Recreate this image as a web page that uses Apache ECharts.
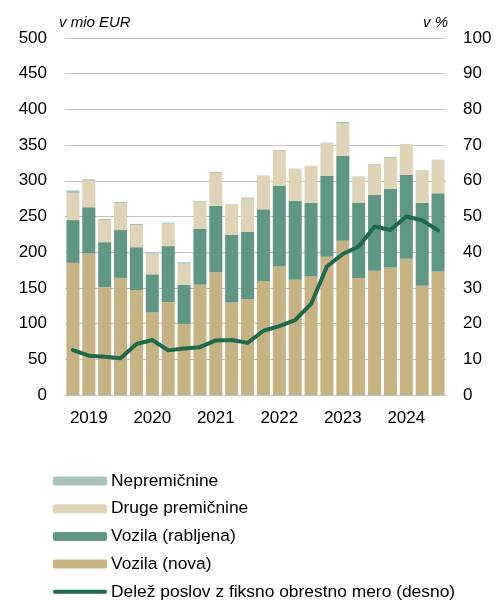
<!DOCTYPE html>
<html>
<head>
<meta charset="utf-8">
<script src="https://cdn.jsdelivr.net/npm/echarts@6/dist/echarts.min.js"></script>
<style>
html,body{margin:0;padding:0;background:#fff;}
#chart{width:496px;height:600px;}
</style>
</head>
<body>
<div id="chart"></div>
<script>
const years = ['2019','2020','2021','2022','2023','2024'];
const quarters = ['Q1','Q2','Q3','Q4'];
const categories = [];
years.forEach(y => quarters.forEach(q => categories.push(y + ' ' + q)));

const vozilaNova = [185,198,151,164,147,115.5,130,99.5,154.5,172,129.5,134,159.5,180,161.5,166,193.5,216,164,174,178.5,191,153,173];
const vozilaRabljena = [60,65,63,67,60,53.5,78.5,54.5,78.5,93,94.5,94.5,100.5,113,110.5,103,113.5,119,105.5,106,110.5,117.5,116,109.5];
const drugePremicnine = [38,37,31,38,31,29,31.5,30,38,46,42,46.5,47,49,44.5,51.5,45.5,45,35.5,42.5,43,42.5,44.5,46];
const nepremicnine = [3.5,2,1.5,1.5,1.5,1,1.5,2,1,1.5,1,1.5,0.5,1,0.5,0.5,1,2.5,1,1,1.5,0.5,1,1];
const delezFiksno = [12.6,11.0,10.7,10.3,14.3,15.4,12.5,13.0,13.4,15.3,15.4,14.6,18.0,19.3,21.0,25.5,36.0,39.5,41.6,47.2,46.2,50.0,48.9,46.1];

const leftTicks = [0,500,50];
const rightTicks = [0,100,10];

const names = ['Nepremičnine','Druge premičnine','Vozila (rabljena)','Vozila (nova)','Delež poslov z fiksno obrestno mero (desno)'];
const colors = {nova:'#C6B283', rab:'#5F9784', druge:'#E0D4B6', nep:'#A7C5B9', line:'#1D6B4C'};

const font = 'Liberation Sans, Arial, sans-serif';
const chart = echarts.init(document.getElementById('chart'));
const barCommon = {type:'bar', stack:'a', barCategoryGap:'18%', yAxisIndex:0};
const lineIcon = 'path://M2,0 L52,0 A2,2 0 0 1 52,4 L2,4 A2,2 0 0 1 2,0 Z';
chart.setOption({
  animation:false,
  textStyle:{fontFamily:font, color:'#000'},
  grid:{left:65, right:50, top:38, bottom:205},
  legend:{
    orient:'vertical', left:53, top:472, height:200, padding:0,
    itemWidth:54, itemHeight:9, itemGap:9.7,
    textStyle:{fontSize:17.4, color:'#000', fontFamily:font, lineHeight:18, padding:[0,0,0,-1]},
    data:names.map((n,i)=>i===4 ? {name:n, icon:lineIcon} : {name:n}),
    selectedMode:false
  },
  xAxis:{
    type:'category', data:categories, boundaryGap:true,
    axisLine:{lineStyle:{color:'#BFBFBF', width:1}},
    axisTick:{length:6, lineStyle:{color:'#BFBFBF'}, interval:(i)=>i%4===0},
    axisLabel:{interval:(i)=>i%4===1, formatter:v=>v.slice(0,4), fontSize:17, color:'#000', margin:15, fontFamily:font}
  },
  yAxis:[
    {type:'value', min:leftTicks[0], max:leftTicks[1], interval:leftTicks[2],
     name:'v mio EUR', nameLocation:'end', nameGap:8,
     nameTextStyle:{fontStyle:'italic', fontSize:15, align:'left', color:'#000', padding:[0,0,0,-6], fontFamily:font},
     axisLine:{show:false}, axisTick:{show:false},
     splitLine:{lineStyle:{color:'#C4C4C4', width:1}},
     axisLabel:{fontSize:17, color:'#000', margin:18, fontFamily:font}},
    {type:'value', min:rightTicks[0], max:rightTicks[1], interval:rightTicks[2], position:'right',
     name:'v %', nameLocation:'end', nameGap:8,
     nameTextStyle:{fontStyle:'italic', fontSize:15, align:'right', color:'#000', padding:[0,-2,0,0], fontFamily:font},
     axisLine:{show:false}, axisTick:{show:false}, splitLine:{show:false},
     axisLabel:{fontSize:17, color:'#000', margin:17, fontFamily:font}}
  ],
  series:[
    Object.assign({name:names[3], data:vozilaNova, itemStyle:{color:colors.nova}}, barCommon),
    Object.assign({name:names[2], data:vozilaRabljena, itemStyle:{color:colors.rab}}, barCommon),
    Object.assign({name:names[1], data:drugePremicnine, itemStyle:{color:colors.druge}}, barCommon),
    Object.assign({name:names[0], data:nepremicnine, itemStyle:{color:colors.nep}}, barCommon),
    {name:names[4], type:'line', yAxisIndex:1, data:delezFiksno, symbol:'none', showSymbol:false,
     lineStyle:{color:colors.line, width:4, cap:'round', join:'round'}, itemStyle:{color:colors.line}, z:5}
  ]
});
</script>
</body>
</html>
